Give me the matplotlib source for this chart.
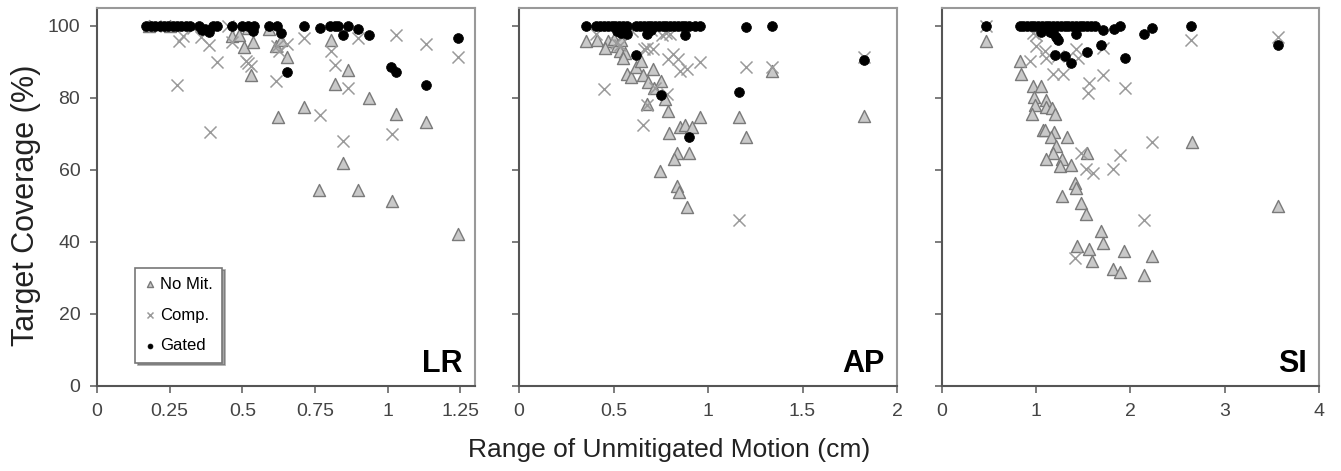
import matplotlib
matplotlib.use('Agg')
import matplotlib.pyplot as plt

plt.rcParams['font.family'] = ['Liberation Sans', 'DejaVu Sans']

# ---- data (x = range of unmitigated motion, y = coverage %) ----
# LR
lr_nomit_x = [0.466, 0.49, 0.506, 0.537, 0.529, 0.592, 0.615, 0.632, 0.655, 0.624, 0.712, 0.805,
              0.82, 0.862, 0.937, 0.845, 1.029, 1.132, 0.764, 0.897, 1.014, 1.241, 0.18, 0.25, 0.52]
lr_nomit_y = [97.3, 97.5, 94.1, 95.6, 86.4, 99.2, 94.5, 96.0, 91.3, 74.7, 77.5, 96.0,
              84.0, 87.8, 80.1, 62.0, 75.5, 73.2, 54.4, 54.5, 51.3, 42.3, 100, 100, 99.5]
lr_comp_x = [0.281, 0.297, 0.356, 0.385, 0.411, 0.276, 0.388, 0.466, 0.511, 0.52, 0.53, 0.615,
             0.626, 0.62, 0.655, 0.712, 0.768, 0.805, 0.82, 0.862, 0.847, 0.897, 1.029, 1.014,
             1.132, 1.241, 0.20, 0.33, 0.45]
lr_comp_y = [95.9, 97.3, 97.0, 94.7, 89.9, 83.6, 70.6, 95.5, 90.3, 89.8, 89.0, 84.8,
             93.1, 94.5, 95.0, 96.8, 75.2, 93.1, 89.1, 82.9, 68.1, 96.6, 97.5, 69.9,
             95.1, 91.5, 100, 99.5, 100]
lr_gated_x = [0.17, 0.185, 0.20, 0.215, 0.23, 0.245, 0.26, 0.275, 0.29, 0.305, 0.32, 0.35,
              0.373, 0.385, 0.36, 0.413, 0.40, 0.466, 0.50, 0.52, 0.54, 0.538, 0.592, 0.62,
              0.632, 0.655, 0.712, 0.768, 0.80, 0.82, 0.83, 0.845, 0.862, 0.897, 0.937,
              1.011, 1.029, 1.132, 1.241]
lr_gated_y = [100, 100, 100, 100, 100, 100, 100, 100, 100, 100, 100, 100,
              99.1, 98.4, 99.0, 100, 100, 100, 100, 100, 100, 98.5, 100, 100,
              98.0, 87.3, 100, 99.4, 100, 100, 100, 97.5, 100, 99.2, 97.6,
              88.7, 87.3, 83.6, 96.6]

# AP
ap_nomit_x = [0.357, 0.414, 0.47, 0.453, 0.516, 0.534, 0.56, 0.551, 0.569, 0.595, 0.62, 0.645,
              0.657, 0.684, 0.71, 0.749, 0.715, 0.772, 0.786, 0.675, 0.795, 0.852, 0.878, 0.913,
              0.958, 0.834, 0.82, 0.901, 0.745, 0.837, 0.848, 0.89, 1.164, 1.201, 1.341, 1.827,
              0.50, 0.54]
ap_nomit_y = [95.9, 96.2, 95.7, 93.8, 94.5, 93.0, 92.6, 91.1, 86.6, 85.7, 88.5, 90.3,
              86.4, 84.5, 88.0, 84.7, 82.9, 79.7, 76.4, 78.3, 70.2, 72.0, 72.5, 72.0,
              74.8, 64.8, 63.0, 64.7, 59.7, 55.5, 54.0, 49.8, 74.8, 69.3, 87.6, 75.0,
              96.5, 96.0]
ap_comp_x = [0.45, 0.41, 0.515, 0.535, 0.66, 0.675, 0.71, 0.816, 0.79, 0.843, 0.852, 0.887,
             0.958, 1.201, 1.341, 0.657, 0.678, 0.719, 0.781, 0.755, 0.78, 0.80, 1.827, 1.166,
             0.60, 0.70]
ap_comp_y = [82.5, 97.8, 95.3, 94.6, 93.6, 94.0, 93.6, 92.2, 90.8, 90.8, 87.5, 88.1,
             90.0, 88.5, 88.5, 72.5, 78.0, 82.9, 81.0, 97.5, 98.0, 97.8, 91.3, 46.2,
             98.5, 99.0]
ap_gated_x = [0.357, 0.41, 0.43, 0.45, 0.47, 0.49, 0.51, 0.53, 0.55, 0.57, 0.62, 0.64,
              0.66, 0.68, 0.70, 0.72, 0.74, 0.76, 0.78, 0.80, 0.82, 0.84, 0.86, 0.88,
              0.90, 0.93, 0.958, 0.52, 0.54, 0.56, 0.57, 0.675, 0.70, 0.878, 0.619,
              0.751, 0.901, 1.201, 1.341, 1.164, 1.827]
ap_gated_y = [100, 100, 100, 100, 100, 100, 100, 100, 100, 100, 100, 100,
              100, 100, 100, 100, 100, 100, 100, 100, 100, 100, 100, 100,
              100, 100, 100, 98.5, 98.0, 98.7, 97.9, 97.8, 98.8, 97.5, 91.9,
              80.8, 69.3, 99.7, 100, 81.8, 90.5]

# SI
si_nomit_x = [0.471, 0.825, 0.843, 0.967, 1.055, 0.974, 0.984, 0.95, 1.10, 1.108, 1.17, 1.20,
              1.073, 1.09, 1.189, 1.154, 1.327, 1.214, 1.178, 1.543, 1.10, 1.277, 1.25, 1.374,
              1.416, 1.427, 1.277, 2.648, 1.48, 1.533, 1.692, 1.703, 1.437, 1.56, 1.596,
              1.933, 2.233, 1.816, 1.887, 2.145, 3.56]
si_nomit_y = [95.9, 90.3, 86.6, 83.3, 83.3, 80.3, 78.0, 75.5, 79.5, 77.6, 77.3, 75.5,
              71.0, 71.0, 70.6, 69.3, 69.3, 66.7, 64.8, 64.8, 63.0, 63.0, 61.1, 61.3,
              56.5, 54.9, 52.9, 67.8, 50.7, 47.9, 43.0, 39.6, 39.0, 38.1, 34.6,
              37.4, 36.2, 32.5, 31.6, 30.9, 49.9]
si_comp_x = [0.97, 1.0, 1.0, 1.09, 0.93, 1.108, 1.23, 1.427, 1.44, 1.179, 1.285, 1.703,
             1.703, 1.56, 1.55, 1.939, 2.64, 3.56, 2.233, 1.887, 1.48, 1.533, 1.604, 1.816,
             2.145, 1.416, 0.471]
si_comp_y = [98.0, 97.5, 94.5, 93.0, 90.3, 91.0, 91.7, 93.6, 91.0, 86.6, 86.6, 93.9,
             86.4, 84.3, 81.3, 82.7, 96.0, 97.0, 67.8, 64.3, 64.7, 60.2, 59.2, 60.2,
             46.0, 35.6, 100]
si_gated_x = [0.471, 0.825, 0.86, 0.90, 0.94, 0.98, 1.02, 1.06, 1.10, 1.14, 1.18, 1.22,
              1.26, 1.30, 1.34, 1.38, 1.42, 1.46, 1.50, 1.54, 1.58, 1.62, 1.055, 1.143,
              1.21, 1.23, 1.18, 1.427, 1.703, 1.826, 1.887, 2.145, 2.233, 2.64, 3.56,
              1.196, 1.302, 1.373, 1.54, 1.692, 1.939]
si_gated_y = [100, 100, 100, 100, 100, 100, 100, 100, 100, 100, 100, 100,
              100, 100, 100, 100, 100, 100, 100, 100, 100, 100, 98.3, 98.3,
              96.9, 96.0, 98.0, 97.8, 99.0, 99.2, 100, 97.8, 99.5, 100, 94.8,
              91.9, 91.7, 89.7, 92.8, 94.8, 91.0]

panel_names = ['LR', 'AP', 'SI']
xlims = [1.3, 2, 4]
xtick_vals = [[0, 0.25, 0.5, 0.75, 1, 1.25], [0, 0.5, 1, 1.5, 2], [0, 1, 2, 3, 4]]
xtick_labels = [['0', '0.25', '0.5', '0.75', '1', '1.25'], ['0', '0.5', '1', '1.5', '2'],
                ['0', '1', '2', '3', '4']]
nomit = [(lr_nomit_x, lr_nomit_y), (ap_nomit_x, ap_nomit_y), (si_nomit_x, si_nomit_y)]
comp = [(lr_comp_x, lr_comp_y), (ap_comp_x, ap_comp_y), (si_comp_x, si_comp_y)]
gated = [(lr_gated_x, lr_gated_y), (ap_gated_x, ap_gated_y), (si_gated_x, si_gated_y)]

W, H = 1341, 471
fig = plt.figure(figsize=(W / 100, H / 100), dpi=100)
lefts = [97, 519, 942]
widths = [378, 378, 377]
top_px, bot_px = 8, 386

for i in range(3):
    ax = fig.add_axes([lefts[i] / W, 1 - bot_px / H, widths[i] / W, (bot_px - top_px) / H])
    t = ax.scatter(*nomit[i], marker='^', s=75, facecolor='#c9c9c9', edgecolor='#7a7a7a',
                   linewidths=1.0, zorder=2, label='No Mit.')
    c = ax.scatter(*comp[i], marker='x', s=75, color='#9a9a9a', linewidths=1.1, zorder=3,
                   label='Comp.')
    g = ax.scatter(*gated[i], marker='o', s=50, color='black', edgecolor='black',
                   linewidths=0.5, zorder=4, label='Gated')
    ax.set_xlim(0, xlims[i])
    ax.set_ylim(0, 105)
    ax.set_xticks(xtick_vals[i])
    ax.set_xticklabels(xtick_labels[i])
    ax.set_yticks([0, 20, 40, 60, 80, 100])
    ax.tick_params(direction='out', length=5, width=1.2, color='#666666', labelsize=14,
                   labelcolor='#444444', pad=7)
    if i > 0:
        ax.set_yticklabels([])
    for side in ['top', 'right']:
        ax.spines[side].set_color('#999999')
        ax.spines[side].set_linewidth(1.5)
    for side in ['left', 'bottom']:
        ax.spines[side].set_color('#555555')
        ax.spines[side].set_linewidth(1.5)
    ax.text(0.968, 0.037, panel_names[i], transform=ax.transAxes, ha='right', va='baseline',
            fontsize=22, fontweight='bold')
    if i == 0:
        leg = ax.legend(handles=[t, c, g], loc='lower left', bbox_to_anchor=(0.078, 0.04),
                        fontsize=12, markerscale=0.5, handlelength=0.7, handletextpad=0.25,
                        labelspacing=0.95, borderpad=0.55, fancybox=False, shadow=True,
                        framealpha=1, edgecolor='#777777')
        leg.get_frame().set_linewidth(1.2)

fig.text(26 / W, 1 - 205 / H, 'Target Coverage (%)', rotation=90, ha='center', va='center',
         fontsize=22, color='#222222')
fig.text(669 / W, 1 - 450 / H, 'Range of Unmitigated Motion (cm)', ha='center', va='center',
         fontsize=19, color='#222222')

fig.savefig('out.png', dpi=100)
